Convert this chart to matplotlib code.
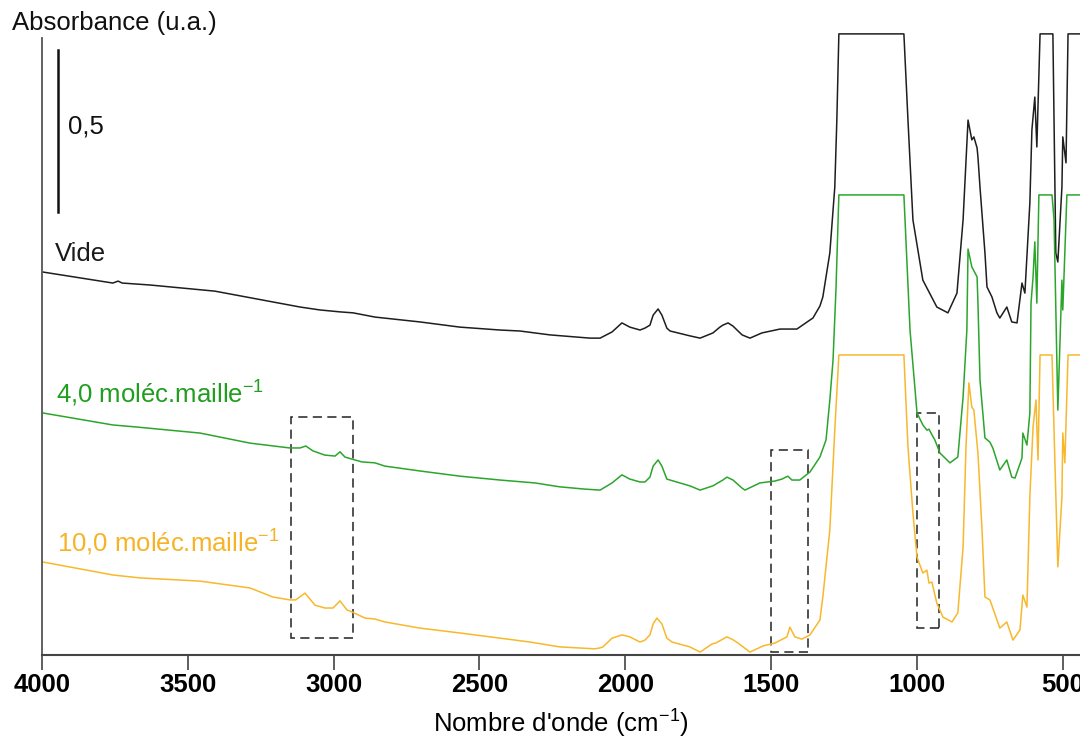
import matplotlib
matplotlib.use("Agg")
import matplotlib.pyplot as plt
from matplotlib.patches import Rectangle
from matplotlib import font_manager

# ---------------- data ----------------
vide_wn = [3997, 3757, 3739, 3725, 3630, 3407, 3115, 3047, 2978, 2933, 2858, 2704, 2567,
           2429, 2361, 2258, 2121, 2086, 2045, 2011, 1984, 1949, 1932, 1915, 1904, 1887, 1874,
           1857, 1846, 1778, 1743, 1699, 1675, 1665, 1647, 1630, 1599, 1572, 1531, 1469, 1411,
           1366, 1356, 1332, 1322, 1298, 1281, 1274, 1267, 1044, 1030, 1013, 979, 931, 893,
           862, 841, 824, 811, 804, 793, 790, 783, 766, 759, 742, 725, 715, 691, 674, 656,
           639, 629, 612, 605, 595, 588, 577, 533, 523, 516, 502, 499, 488, 481, 440]
vide_abs = [1.182, 1.148, 1.154, 1.148, 1.142, 1.123, 1.074, 1.065, 1.059, 1.056, 1.043, 1.028, 1.012,
            1.003, 1.000, 0.988, 0.978, 0.978, 0.997, 1.025, 1.012, 1.003, 1.009, 1.018, 1.049, 1.068, 1.049,
            1.009, 1.000, 0.985, 0.978, 0.994, 1.012, 1.018, 1.025, 1.015, 0.988, 0.978, 0.994, 1.006, 1.006,
            1.034, 1.040, 1.077, 1.105, 1.241, 1.444, 1.650, 1.917, 1.917, 1.651, 1.343, 1.157, 1.074, 1.056,
            1.117, 1.343, 1.651, 1.590, 1.599, 1.565, 1.537, 1.444, 1.241, 1.136, 1.105, 1.056, 1.040, 1.074, 1.028, 1.025,
            1.148, 1.117, 1.395, 1.620, 1.722, 1.568, 1.917, 1.917, 1.241, 1.213, 1.444, 1.599, 1.519, 1.917, 1.917]

m4_wn = [3997, 3757, 3680, 3458, 3287, 3150, 3115, 3095, 3071, 3030, 2995, 2978, 2961, 2927,
         2903, 2858, 2824, 2704, 2567, 2429, 2309, 2224, 2138, 2086, 2045, 2011, 1984, 1949, 1932,
         1915, 1904, 1887, 1874, 1857, 1846, 1778, 1743, 1699, 1665, 1651, 1630, 1599, 1589, 1538,
         1486, 1462, 1442, 1428, 1401, 1366, 1332, 1311, 1298, 1287, 1277, 1267, 1044, 1023, 999,
         979, 965, 958, 948, 938, 920, 886, 859, 841, 828, 824, 811, 800, 793, 790, 783, 766, 749,
         739, 715, 691, 674, 663, 639, 636, 622, 612, 608, 601, 595, 588, 581, 536, 529, 516, 502,
         499, 485, 440]
m4_abs = [0.747, 0.710, 0.704, 0.685, 0.654, 0.639, 0.639, 0.645, 0.630, 0.617, 0.614, 0.627, 0.611, 0.602,
          0.596, 0.593, 0.583, 0.568, 0.552, 0.540, 0.531, 0.519, 0.512, 0.509, 0.531, 0.556, 0.543, 0.534, 0.534,
          0.549, 0.583, 0.602, 0.583, 0.543, 0.540, 0.522, 0.509, 0.522, 0.540, 0.549, 0.540, 0.515, 0.509, 0.531,
          0.537, 0.543, 0.552, 0.540, 0.540, 0.565, 0.611, 0.664, 0.787, 0.910, 1.127, 1.420, 1.420, 1.003, 0.747,
          0.710, 0.694, 0.697, 0.680, 0.664, 0.623, 0.593, 0.611, 0.796, 1.003, 1.253, 1.198, 1.179, 1.167, 1.086, 0.849, 0.670, 0.657,
          0.639, 0.571, 0.602, 0.549, 0.546, 0.608, 0.685, 0.648, 0.747, 1.086, 1.167, 1.275, 1.086, 1.420, 1.420, 1.343, 0.756, 1.157,
          1.065, 1.420, 1.420]

m10_wn = [3997, 3757, 3665, 3458, 3287, 3208, 3150, 3130, 3098, 3064, 3030, 3002, 2978, 2954,
          2937, 2892, 2858, 2824, 2704, 2567, 2429, 2326, 2224, 2104, 2086, 2076, 2045, 2011,
          1984, 1949, 1932, 1915, 1904, 1891, 1874, 1857, 1839, 1778, 1743, 1702, 1689, 1665, 1651,
          1630, 1613, 1572, 1527, 1486, 1445, 1435, 1418, 1394, 1366, 1332, 1322, 1298, 1281, 1267,
          1044, 1030, 1013, 999, 979, 965, 958, 948, 931, 910, 879, 859, 841, 831, 821, 811, 804,
          790, 776, 766, 749, 739, 715, 691, 670, 646, 636, 622, 612, 601, 591, 584, 577, 536, 526,
          516, 502, 499, 492, 481, 440]
m10_abs = [0.287, 0.247, 0.238, 0.228, 0.207, 0.179, 0.170, 0.170, 0.191, 0.154, 0.145, 0.145, 0.167, 0.139,
           0.133, 0.114, 0.111, 0.102, 0.083, 0.068, 0.052, 0.040, 0.025, 0.019, 0.022, 0.025, 0.052, 0.062,
           0.056, 0.040, 0.046, 0.062, 0.096, 0.114, 0.096, 0.052, 0.040, 0.025, 0.009, 0.034, 0.037, 0.049, 0.056,
           0.047, 0.037, 0.009, 0.028, 0.037, 0.056, 0.086, 0.056, 0.049, 0.062, 0.108, 0.179, 0.386, 0.694, 0.926,
           0.926, 0.642, 0.438, 0.302, 0.253, 0.262, 0.222, 0.225, 0.160, 0.117, 0.102, 0.130, 0.333, 0.642, 0.840, 0.765, 0.756,
           0.623, 0.386, 0.179, 0.170, 0.145, 0.083, 0.102, 0.046, 0.077, 0.185, 0.148, 0.488, 0.704, 0.787, 0.602, 0.926, 0.926, 0.593,
           0.272, 0.488, 0.685, 0.593, 0.926, 0.926]

series_labels = ["Vide", "4,0 moléc.maille$^{-1}$", "10,0 moléc.maille$^{-1}$"]
series_colors = ["#1e1e1e", "#2ca52c", "#f8b82c"]
label_colors = ["#1a1a1a", "#1f9e1f", "#f6b326"]

# regions highlighted (wn_high, wn_low), (abs_low, abs_high)
box_wn = [(3146, 2933), (1500, 1373), (999, 924)]
box_abs = [(0.052, 0.735), (0.009, 0.633), (0.083, 0.747)]

xticks = [4000, 3500, 3000, 2500, 2000, 1500, 1000, 500]
scale_bar = 0.5

# ---------------- fonts ----------------
avail = {f.name for f in font_manager.fontManager.ttflist}
narrow = "Liberation Sans Narrow" if "Liberation Sans Narrow" in avail else "Liberation Sans"
narrow_size = 22 if narrow == "Liberation Sans Narrow" else 18.5

plt.rcParams["font.family"] = ["Liberation Sans", "DejaVu Sans"]
plt.rcParams["mathtext.fontset"] = "custom"
plt.rcParams["mathtext.rm"] = "Liberation Sans"
plt.rcParams["mathtext.it"] = "Liberation Sans:italic"
plt.rcParams["mathtext.bf"] = "Liberation Sans:bold"
plt.rcParams["mathtext.default"] = "rm"

fig = plt.figure(figsize=(10.8, 7.43), dpi=100)
ax = fig.add_axes([42 / 1080, 1 - 655 / 743, 1 - 42 / 1080, (655 - 30) / 743])

for wn, ab, c in zip([vide_wn, m4_wn, m10_wn], [vide_abs, m4_abs, m10_abs], series_colors):
    ax.plot(wn, ab, color=c, lw=1.1, solid_joinstyle="round")

for (w1, w2), (a1, a2) in zip(box_wn, box_abs):
    ax.add_patch(Rectangle((w2, a1), w1 - w2, a2 - a1, fill=False, edgecolor="#222222",
                           lw=1.1, linestyle=(0, (6, 3.5))))

ax.set_xlim(4000, 440)
ax.set_ylim(0, (655 - 30) / 324)

# scale bar
ax.plot([3945, 3945], [1.367, 1.367 + scale_bar], color="#111111", lw=1.8)
ax.text(3911, 1.630, "0,5", fontsize=18.5, va="center", ha="left", color="#111111")

# series labels
ax.text(3955, 1.237, series_labels[0], fontsize=18.5, color=label_colors[0], va="center")
ax.text(3952, 0.806, series_labels[1], fontsize=18.5, color=label_colors[1], va="center")
ax.text(3950, 0.346, series_labels[2], fontsize=18.5, color=label_colors[2], va="center")

fig.text(12 / 1080, 1 - 23 / 743, "Absorbance (u.a.)", fontsize=18.5, va="center", ha="left",
         color="#111111")

for s in ["top", "right"]:
    ax.spines[s].set_visible(False)
ax.spines["left"].set_bounds(0, (655 - 38) / 324)
ax.spines["left"].set_color("#555555")
ax.spines["bottom"].set_color("#444444")
ax.spines["left"].set_linewidth(1.3)
ax.spines["bottom"].set_linewidth(1.5)
ax.set_yticks([])
ax.set_xticks(xticks)
ax.set_xticklabels([str(t) for t in xticks], fontfamily=narrow, fontweight="bold",
                   fontsize=narrow_size)
ax.tick_params(axis="x", direction="out", length=11, width=1.1, color="#333333", pad=2)
ax.set_xlabel("Nombre d'onde (cm$^{-1}$)", fontfamily=narrow, fontsize=narrow_size, labelpad=8)

fig.savefig("out.png", dpi=100)
